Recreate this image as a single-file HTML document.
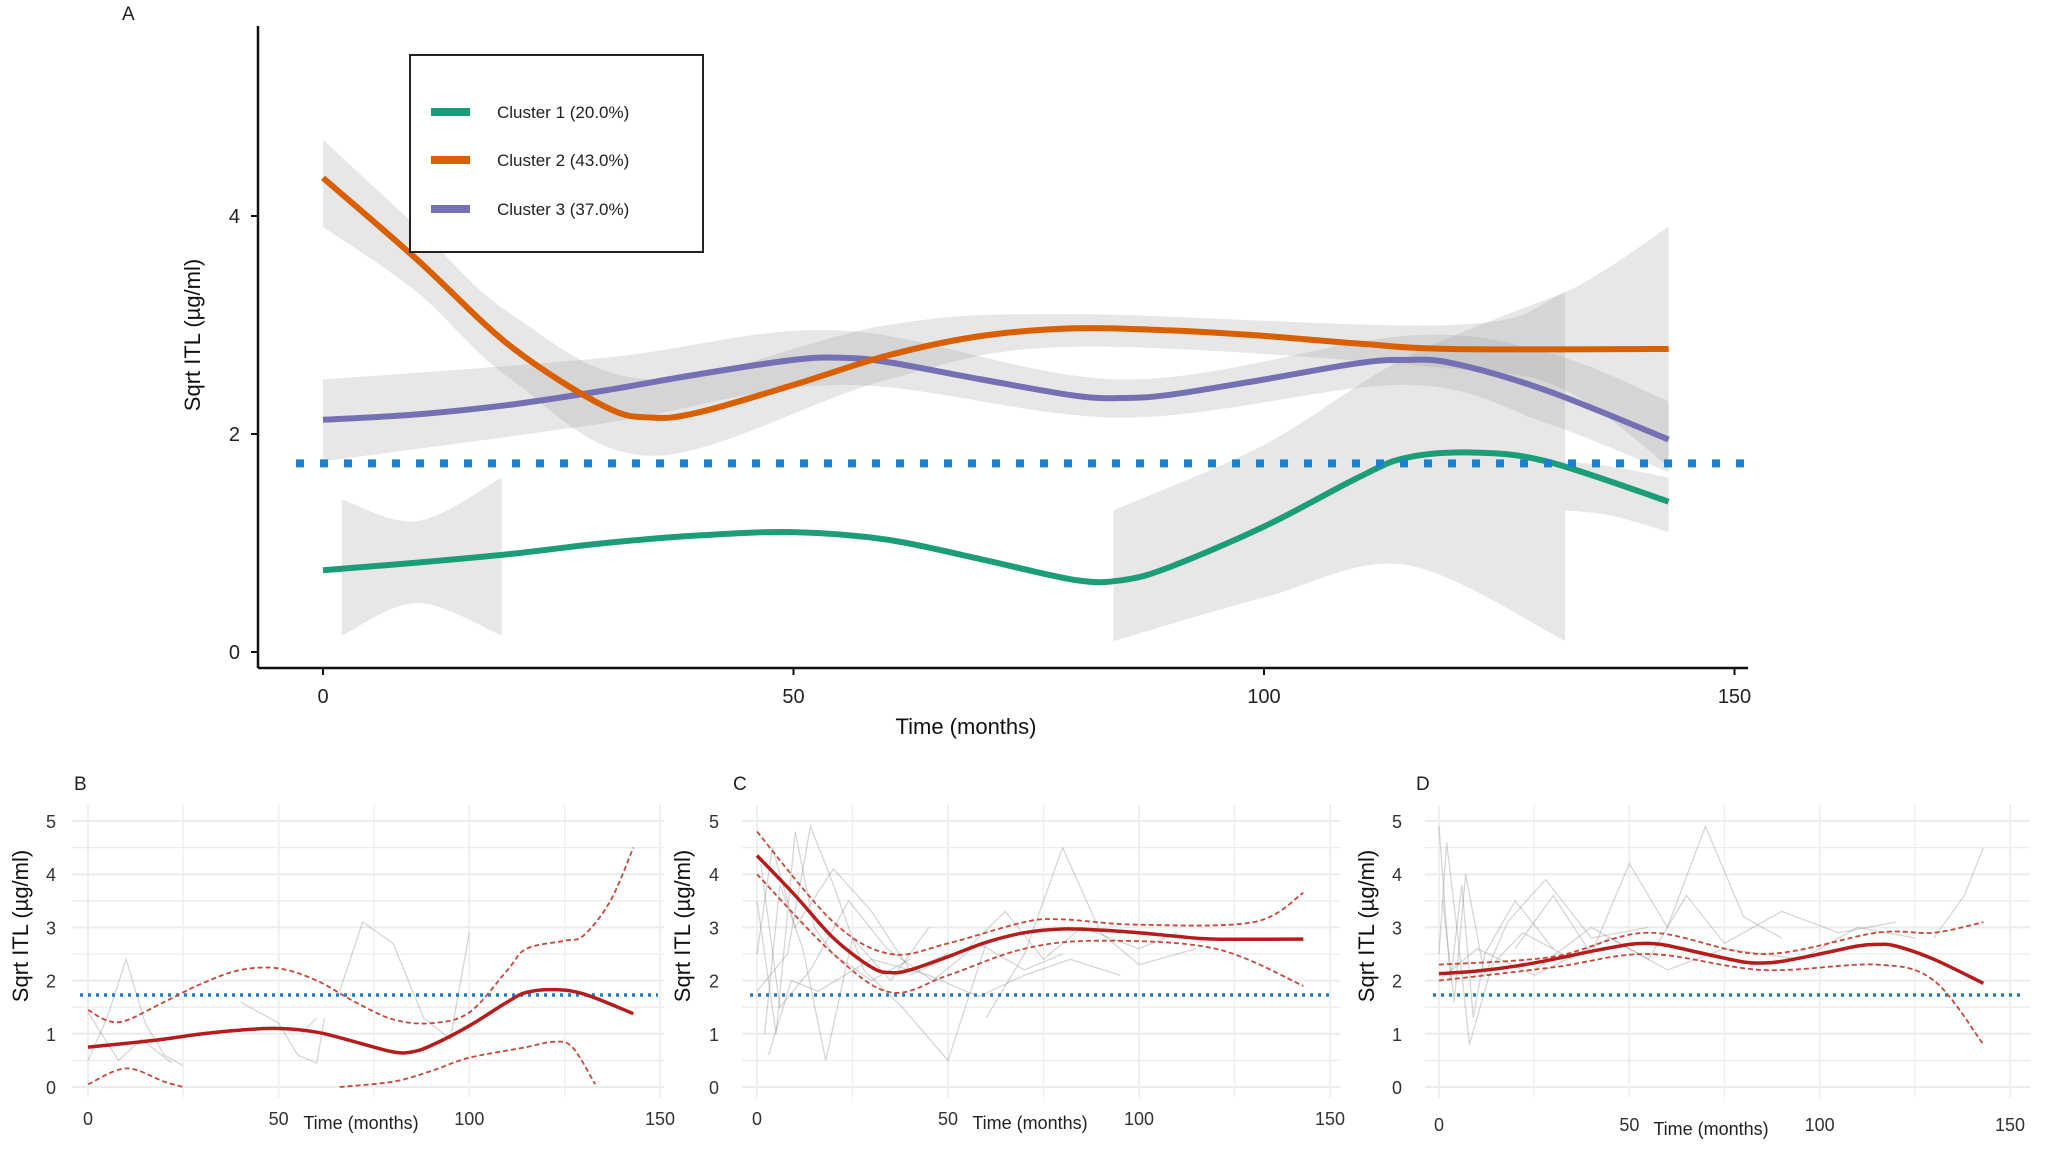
<!DOCTYPE html>
<html><head><meta charset="utf-8">
<style>
html,body{margin:0;padding:0;background:#fff;}
svg{display:block;font-family:"Liberation Sans",sans-serif;}
</style></head>
<body>
<svg id="fig" width="2050" height="1153" viewBox="0 0 2050 1153" xmlns="http://www.w3.org/2000/svg"></svg>
<script>
// ---------- DATA ----------
const c1T=[0,10,20,30,40,50,60,70,80,85,90,100,110,115,122,130,143];
const c1V=[0.75,0.82,0.9,1.0,1.07,1.1,1.03,0.85,0.66,0.66,0.78,1.15,1.6,1.78,1.83,1.75,1.38];
const c2T=[0,10,20,30,35,40,50,60,70,80,90,100,110,120,143];
const c2V=[4.35,3.6,2.8,2.25,2.15,2.2,2.45,2.72,2.9,2.97,2.95,2.9,2.83,2.78,2.78];
const c3T=[0,10,20,30,40,50,55,60,70,80,85,90,100,110,115,120,130,143];
const c3V=[2.13,2.18,2.27,2.4,2.55,2.68,2.7,2.66,2.5,2.35,2.33,2.36,2.5,2.65,2.68,2.65,2.4,1.95];
// bands panel A
const b1aT=[2,10,19];const b1aLo=[0.15,0.45,0.15];const b1aHi=[1.4,1.2,1.6];
const b1bT=[84,100,115,132];const b1bLo=[0.1,0.5,0.8,0.1];const b1bHi=[1.3,1.9,2.7,3.3];
const b1cT=[132,137,143];const b1cLo=[1.3,1.25,1.1];const b1cHi=[1.75,1.7,1.6];
const b2T=[0,10,20,35,60,80,120,132,143];const b2Lo=[3.9,3.3,2.5,1.8,2.5,2.8,2.6,2.4,1.7];const b2Hi=[4.7,3.9,3.1,2.5,3.0,3.1,3.0,3.3,3.9];
const b3T=[0,30,55,85,115,130,143];const b3Lo=[1.75,2.1,2.45,2.15,2.45,2.1,1.65];const b3Hi=[2.5,2.7,2.95,2.5,2.9,2.75,2.3];
// CI panels
const ciBUT=[0,5,10,20,30,40,50,60,70,80,90,100,110,115,125,130,137,143];
const ciBU=[1.45,1.25,1.25,1.6,1.95,2.2,2.23,2.0,1.6,1.27,1.2,1.4,2.2,2.6,2.75,2.85,3.5,4.5];
const ciBL1T=[0,10,20,25];const ciBL1=[0.05,0.35,0.1,0.0];
const ciBL2T=[66,80,90,100,115,122,127,133];const ciBL2=[0.0,0.1,0.3,0.55,0.75,0.85,0.75,0.05];
const ciCUT=[0,20,35,50,70,80,100,130,143];const ciCU=[4.8,3.1,2.5,2.7,3.1,3.15,3.05,3.1,3.65];
const ciCLT=[0,20,35,50,70,90,120,143];const ciCL=[4.0,2.5,1.78,2.1,2.6,2.75,2.6,1.9];
const ciDUT=[0,30,55,85,115,130,143];const ciDU=[2.3,2.45,2.9,2.5,2.9,2.9,3.1];
const ciDLT=[0,30,55,85,115,130,143];const ciDL=[2.0,2.25,2.5,2.2,2.3,2.0,0.8];
// individual trajectories (hand read, approximate)
const spB=[[[0,0.5],[5,1.3],[10,2.4],[15,1.2],[20,0.6],[25,0.4]],[[0,1.4],[8,0.5],[14,0.9],[22,0.45]],[[40,1.6],[50,1.2],[55,0.6],[60,0.45],[62,1.3]],[[66,1.8],[72,3.1],[80,2.7],[88,1.3],[95,0.9],[100,2.9]],[[56,1.0],[60,1.3]]];
const spC=[[[0,3.5],[5,1.0],[10,4.8],[15,3.0],[20,2.5],[30,2.0],[40,2.4]],[[0,2.5],[4,4.5],[10,3.0],[20,4.1],[30,3.3],[40,2.2],[50,2.5]],[[2,1.0],[6,3.8],[12,2.6],[18,0.5],[25,2.8],[35,2.0],[45,3.0]],[[0,1.8],[8,2.5],[14,4.9],[20,3.8],[28,2.2],[38,1.5],[50,0.5],[60,2.7]],[[1,4.2],[6,1.5],[14,2.2],[24,3.5],[34,2.6],[46,2.0],[58,2.7],[70,2.2],[80,2.5]],[[40,2.1],[55,2.6],[65,3.3],[75,2.4],[85,3.0],[100,2.6],[110,2.9]],[[3,0.6],[9,2.0],[16,1.8],[30,2.4],[45,2.1],[58,1.7],[70,2.1],[82,2.4],[95,2.1]],[[60,1.3],[70,2.5],[80,4.5],[90,2.9],[100,2.3],[115,2.6]]];
const spD=[[[0,4.9],[3,2.0],[6,3.8],[9,1.3],[12,2.5],[20,3.5],[30,2.6]],[[0,2.5],[2,4.6],[5,2.8],[8,0.8],[14,2.3],[22,2.9],[35,2.4]],[[1,3.5],[4,1.6],[7,4.0],[12,2.1],[18,3.1],[28,3.9],[40,2.8],[55,3.0]],[[20,2.6],[30,3.6],[40,2.5],[50,4.2],[60,3.0],[70,4.9],[80,3.2],[90,2.8]],[[25,2.2],[40,3.0],[55,2.4],[65,3.6],[75,2.7],[90,3.3],[105,2.9],[120,3.1]],[[0,2.0],[10,2.6],[25,2.1],[45,2.8],[60,2.2],[75,2.6],[95,2.4],[110,3.0],[125,2.8]],[[130,2.8],[138,3.6],[143,4.5]]];

// ---------- HELPERS ----------
const NS="http://www.w3.org/2000/svg";
const svg=document.getElementById('fig');
function mk(tag,attrs,parent){const e=document.createElementNS(NS,tag);for(const k in attrs)e.setAttribute(k,attrs[k]);(parent||svg).appendChild(e);return e;}
function smooth(pts){
  if(pts.length<2)return '';
  let d='M'+pts[0][0].toFixed(1)+','+pts[0][1].toFixed(1);
  for(let i=0;i<pts.length-1;i++){
    const p0=pts[i-1]||pts[i],p1=pts[i],p2=pts[i+1],p3=pts[i+2]||p2;
    const c1x=p1[0]+(p2[0]-p0[0])/6,c1y=p1[1]+(p2[1]-p0[1])/6;
    const c2x=p2[0]-(p3[0]-p1[0])/6,c2y=p2[1]-(p3[1]-p1[1])/6;
    d+=' C'+c1x.toFixed(1)+','+c1y.toFixed(1)+' '+c2x.toFixed(1)+','+c2y.toFixed(1)+' '+p2[0].toFixed(1)+','+p2[1].toFixed(1);
  }
  return d;
}
function pts(T,V,sx,sy){return T.map((t,i)=>[sx(t),sy(V[i])]);}
function bandPath(T,lo,hi,sx,sy){
  const up=pts(T,hi,sx,sy), dn=pts(T,lo,sx,sy).reverse();
  return smooth(up)+' L'+dn[0][0]+','+dn[0][1]+smooth(dn).replace(/^M[^ C]+/,'')+' Z';
}
function text(str,x,y,attrs,name){const e=mk('text',Object.assign({x:x,y:y},attrs));e.textContent=str;return e;}

// ---------- PANEL A ----------
const ax=t=>323+t*9.41, ay=v=>652-v*109;
const gA=mk('g',{});
text('A',122,20,{'font-size':19,fill:'#222'},'panel-a-label');
[[b1aT,b1aLo,b1aHi,'band-cluster1-a'],[b1bT,b1bLo,b1bHi,'band-cluster1-b'],[b1cT,b1cLo,b1cHi,'band-cluster1-c'],[b2T,b2Lo,b2Hi,'band-cluster2'],[b3T,b3Lo,b3Hi,'band-cluster3']].forEach(b=>{
  const p=mk('path',{d:bandPath(b[0],b[1],b[2],ax,ay),fill:'#aaaaaa','fill-opacity':0.28,stroke:'none'},gA);
  
});
let l;
l=mk('path',{d:smooth(pts(c1T,c1V,ax,ay)),fill:'none',stroke:'#1b9e77','stroke-width':6},gA);

l=mk('path',{d:smooth(pts(c3T,c3V,ax,ay)),fill:'none',stroke:'#7570b3','stroke-width':6},gA);

l=mk('path',{d:smooth(pts(c2T,c2V,ax,ay)),fill:'none',stroke:'#d95f02','stroke-width':6},gA);

l=mk('line',{x1:296,x2:1748,y1:ay(1.73),y2:ay(1.73),stroke:'#1f7fcf','stroke-width':8,'stroke-dasharray':'8 16'},gA);

// axes
l=mk('line',{x1:258,x2:258,y1:26,y2:668,stroke:'#111','stroke-width':2.5},gA);

l=mk('line',{x1:258,x2:1748,y1:668,y2:668,stroke:'#111','stroke-width':2.5},gA);

const yTicksA=[0,2,4];
yTicksA.forEach(v=>{
  const t=mk('line',{x1:251,x2:258,y1:ay(v),y2:ay(v),stroke:'#111','stroke-width':2},gA);
  
  text(String(v),240,ay(v)+7,{'font-size':20,'text-anchor':'end',fill:'#222'},'y-tick-label-a');
});
const xTicksA=[0,50,100,150];
xTicksA.forEach(v=>{
  const t=mk('line',{x1:ax(v),x2:ax(v),y1:668,y2:675,stroke:'#111','stroke-width':2},gA);
  
  text(String(v),ax(v),703,{'font-size':20,'text-anchor':'middle',fill:'#222'},'x-tick-label-a');
});
text('Time (months)',966,734,{'font-size':22,'text-anchor':'middle',fill:'#111'},'x-axis-title-a');
text('Sqrt ITL (µg/ml)',0,0,{'font-size':22,'text-anchor':'middle',fill:'#111',transform:'translate(200,335) rotate(-90)'},'y-axis-title-a');
// legend
const lg=mk('g',{});
l=mk('rect',{x:410,y:55,width:293,height:197,fill:'#fff',stroke:'#222','stroke-width':2},lg);

const legNames=['Cluster 1 (20.0%)','Cluster 2 (43.0%)','Cluster 3 (37.0%)'];
const legCols=['#1b9e77','#d95f02','#7570b3'];
legNames.forEach((n,i)=>{
  const y=[112,160,209][i];
  const s=mk('line',{x1:431,x2:470,y1:y,y2:y,stroke:legCols[i],'stroke-width':8},lg);
  
  const t=text(n,497,y+6,{'font-size':17,fill:'#222'},'legend-entry');lg.appendChild(t);
});

// ---------- SMALL PANELS ----------
function panel(cfg){
  const g=mk('g',{});
  const sx=t=>cfg.x0+t*(cfg.x150-cfg.x0)/150, sy=v=>1087-v*53.2;
  // grid
  for(let v=-0.5;v<=5.5;v+=0.5){if(v<0||v>5.25)continue;
    const gl=mk('line',{x1:cfg.gx0,x2:cfg.gx1,y1:sy(v),y2:sy(v),stroke:'#ececec','stroke-width':v%1===0?2:1.3},g);
    }
  for(let t=0;t<=150;t+=25){
    const gl=mk('line',{x1:sx(t),x2:sx(t),y1:sy(5.3),y2:sy(-0.2),stroke:'#efefef','stroke-width':t%50===0?2:1.3},g);
    }
  cfg.sp.forEach(tr=>{
    const p=mk('polyline',{points:tr.map(q=>sx(q[0])+','+sy(q[1])).join(' '),fill:'none',stroke:'#8a8a8a','stroke-opacity':0.35,'stroke-width':1.3},g);
    
  });
  const th=mk('line',{x1:cfg.gx0+8,x2:cfg.gx1-6,y1:sy(1.73),y2:sy(1.73),stroke:'#1f7fcf','stroke-width':3.5,'stroke-dasharray':'3 5'},g);
  
  cfg.ci.forEach(c=>{
    const p=mk('path',{d:smooth(pts(c[0],c[1],sx,sy)),fill:'none',stroke:'#c8463c','stroke-width':1.8,'stroke-dasharray':'5 3'},g);
    
  });
  const m=mk('path',{d:smooth(pts(cfg.T,cfg.V,sx,sy)),fill:'none',stroke:'#b71c1c','stroke-width':3.5},g);
  
  [0,1,2,3,4,5].forEach(v=>{g.appendChild(text(String(v),cfg.ylx,sy(v)+7,{'font-size':18,'text-anchor':'end',fill:'#333'},'y-tick-label'));});
  [0,50,100,150].forEach(v=>{g.appendChild(text(String(v),sx(v),cfg.xly,{'font-size':18,'text-anchor':'middle',fill:'#333'},'x-tick-label'));});
  g.appendChild(text('Time (months)',cfg.tx,cfg.xly+4,{'font-size':18,'text-anchor':'middle',fill:'#222'},'x-axis-title'));
  g.appendChild(text('Sqrt ITL (µg/ml)',0,0,{'font-size':22,'text-anchor':'middle',fill:'#111',transform:'translate('+cfg.ytx+',926) rotate(-90)'},'y-axis-title'));
  g.appendChild(text(cfg.lab,cfg.labx,790,{'font-size':19,fill:'#222'},'panel-label'));
}
panel({name:'panel-b',lab:'B',labx:74,x0:88,x150:660,gx0:72,gx1:664,ylx:56,xly:1125,tx:361,ytx:28,T:c1T,V:c1V,sp:spB,ci:[[ciBUT,ciBU],[ciBL1T,ciBL1],[ciBL2T,ciBL2]]});
panel({name:'panel-c',lab:'C',labx:733,x0:757,x150:1330,gx0:742,gx1:1340,ylx:719,xly:1125,tx:1030,ytx:690,T:c2T,V:c2V,sp:spC,ci:[[ciCUT,ciCU],[ciCLT,ciCL]]});
panel({name:'panel-d',lab:'D',labx:1416,x0:1439,x150:2010,gx0:1425,gx1:2030,ylx:1402,xly:1131,tx:1711,ytx:1374,T:c3T,V:c3V,sp:spD,ci:[[ciDUT,ciDU],[ciDLT,ciDL]]});
</script>
</body></html>
